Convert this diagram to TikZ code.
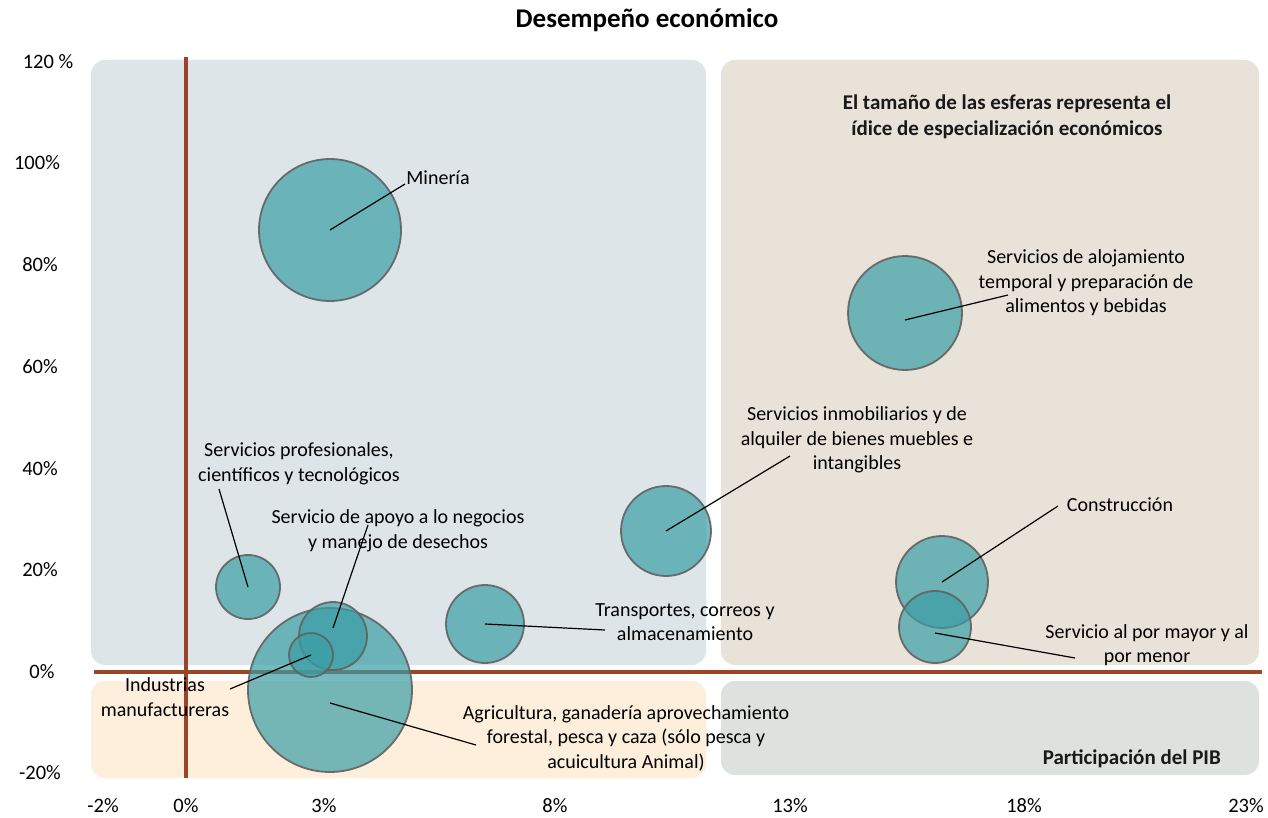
\documentclass[tikz,border=0pt]{standalone}
\usepackage{fontspec}
\setmainfont{Carlito}
\begin{document}
\begin{tikzpicture}[x=1pt,y=-1pt,
  panel/.style={rounded corners=14pt},
  axisline/.style={draw=axisred,line width=3.4pt},
  bubble/.style={circle,inner sep=0pt,fill=bubteal,fill opacity=0.7,draw=black!62,draw opacity=0.9,line width=1.8pt},
  lbl/.style={font=\fontsize{20}{24.5}\selectfont,align=center,text=black,inner sep=0pt},
  boldlbl/.style={font=\fontsize{21}{26}\selectfont\bfseries,align=center,text=black!90,inner sep=0pt},
  tick/.style={font=\fontsize{20.5}{22}\selectfont,inner sep=0pt},
  leader/.style={draw=black,line width=1.2pt}]
\definecolor{axisred}{HTML}{9B4428}
\definecolor{bubteal}{HTML}{3A9EA5}
\definecolor{pblue}{HTML}{DEE5E8}
\definecolor{pbeige}{HTML}{E8E2D8}
\definecolor{ppeach}{HTML}{FDEFDC}
\definecolor{pgray}{HTML}{DDE2DE}
\useasboundingbox (0,0) rectangle (1268,818);
\fill[white] (0,0) rectangle (1268,818);
% title
\node[font=\fontsize{27}{30}\selectfont\bfseries] (title) at (647,20) {Desempeño económico};
% panels
\fill[pblue,panel] (91,60) rectangle (706,665);
\fill[pbeige,panel] (721,60) rectangle (1259,665);
\fill[ppeach,panel] (91,681) rectangle (706,778);
\fill[pgray,panel] (721,681) rectangle (1259,775);
% axes
\draw[axisline] (186,57) -- (186,778);
\draw[axisline] (94,672) -- (1262,672);
% y ticks
\node[tick] (y120) at (48,62) {120 \%};
\node[tick] (y100) at (37,163) {100\%};
\node[tick] (y80) at (40,265) {80\%};
\node[tick] (y60) at (40,367) {60\%};
\node[tick] (y40) at (40,469) {40\%};
\node[tick] (y20) at (40,570) {20\%};
\node[tick] (y0) at (42,672) {0\%};
\node[tick] (ym20) at (40,773) {-20\%};
% x ticks
\node[tick] (xm2) at (103,806) {-2\%};
\node[tick] (x0) at (186,806) {0\%};
\node[tick] (x3) at (324,806) {3\%};
\node[tick] (x8) at (555,806) {8\%};
\node[tick] (x13) at (790,806) {13\%};
\node[tick] (x18) at (1024,806) {18\%};
\node[tick] (x23) at (1246,806) {23\%};
% legend texts
\node[boldlbl] (legend) at (1007,117) {El tamaño de las esferas representa el\\ídice de especialización económicos};
\node[boldlbl,anchor=east] (pib) at (1221,759) {Participación del PIB};
% bubbles
\node[bubble,minimum size=142pt] (min) at (330,230) {};
\node[bubble,minimum size=114pt] (alo) at (905,313) {};
\node[bubble,minimum size=90pt] (inm) at (666,531) {};
\node[bubble,minimum size=92pt] (con) at (942,582) {};
\node[bubble,minimum size=72pt] (may) at (935,627) {};
\node[bubble,minimum size=78pt] (tra) at (485,624) {};
\node[bubble,minimum size=64pt] (pro) at (248,587) {};
\node[bubble,minimum size=164pt] (agr) at (330,690) {};
\node[bubble,minimum size=68pt] (apo) at (333,636) {};
\node[bubble,minimum size=44pt] (ind) at (311,655) {};
% labels
\node[lbl] (lmin) at (438,178) {Minería};
\node[lbl] (lalo) at (1086,283) {Servicios de alojamiento\\temporal y preparación de\\alimentos y bebidas};
\node[lbl] (linm) at (857,440) {Servicios inmobiliarios y de\\alquiler de bienes muebles e\\intangibles};
\node[lbl] (lcon) at (1120,505) {Construcción};
\node[lbl] (lmay) at (1147,645) {Servicio al por mayor y al\\por menor};
\node[lbl] (ltra) at (685,622) {Transportes, correos y\\almacenamiento};
\node[lbl] (lpro) at (299,464) {Servicios profesionales,\\científicos y tecnológicos};
\node[lbl] (lapo) at (398,531) {Servicio de apoyo a lo negocios\\y manejo de desechos};
\node[lbl] (lind) at (165,697) {Industrias\\manufactureras};
\node[lbl] (lagr) at (626,738) {Agricultura, ganadería aprovechamiento\\forestal, pesca y caza (sólo pesca y\\acuicultura Animal)};
% leader ends
\coordinate (emin) at (405,184);
\coordinate (ealo) at (1008,295);
\coordinate (einm) at (790,456);
\coordinate (econ) at (1058,506);
\coordinate (emay) at (1075,658);
\coordinate (etra) at (605,630);
\coordinate (epro) at (219,489);
\coordinate (eapo) at (368,525);
\coordinate (eind) at (230,689);
\coordinate (eagr) at (476,745);
% leaders
\draw[leader] (min.center) -- (emin);
\draw[leader] ([yshift=-7pt]alo.center) -- (ealo);
\draw[leader] (inm.center) -- (einm);
\draw[leader] (con.center) -- (econ);
\draw[leader] ([yshift=-6pt]may.center) -- (emay);
\draw[leader] (tra.center) -- (etra);
\draw[leader] (pro.center) -- (epro);
\draw[leader] ([yshift=8pt]apo.center) -- (eapo);
\draw[leader] (ind.center) -- (eind);
\draw[leader] ([yshift=-13pt]agr.center) -- (eagr);
\end{tikzpicture}
\end{document}
